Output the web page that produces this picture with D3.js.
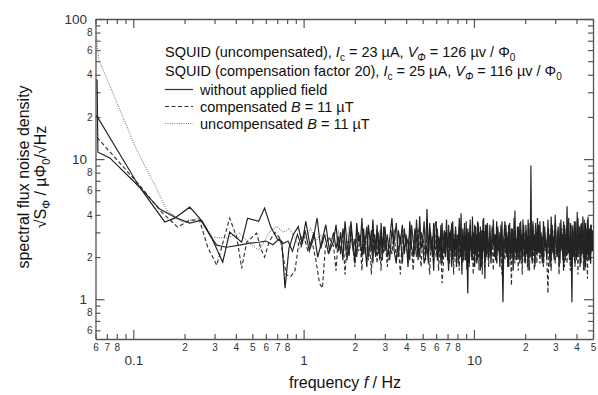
<!DOCTYPE html>
<html>
<head>
<meta charset="utf-8">
<script src="https://cdn.jsdelivr.net/npm/d3@7"></script>
<style>
  body { margin: 0; background: #fff; }
  svg { display: block; font-family: "Liberation Sans", Arial, sans-serif; }
</style>
</head>
<body>
<svg id="chart" width="598" height="395"></svg>
<script>
// axis ticks
const xMajor = [0.1, 1, 10];
const xMinor = [0.06, 0.07, 0.08, 0.09, 0.2, 0.3, 0.4, 0.5, 0.6, 0.7, 0.8, 0.9,
                2, 3, 4, 5, 6, 7, 8, 9, 20, 30, 40, 50];
const xMinorLabeled = [0.06, 0.07, 0.08, 0.2, 0.3, 0.4, 0.5, 0.6, 0.7, 0.8,
                       2, 3, 4, 5, 6, 7, 8, 20, 30, 40, 50];
const yMajor = [1, 10, 100];
const yMinor = [0.6, 0.7, 0.8, 0.9, 2, 3, 4, 5, 6, 7, 8, 9, 20, 30, 40, 50, 60, 70, 80, 90];
const yMinorLabeled = [0.6, 0.8, 2, 4, 6, 8, 20, 40, 60, 80];

// low frequency part, [f (Hz), sqrt(S) (uPhi0/sqrtHz)]
const solidALo = [[0.0613, 37], [0.0620, 11.2], [0.0728, 10.2], [0.109, 6.3], [0.153, 3.56], [0.175, 3.79],
  [0.2145, 4.54], [0.245, 3.79], [0.289, 2.73], [0.335, 1.84], [0.368, 3.01], [0.433, 2.55], [0.469, 3.79],
  [0.545, 3.6], [0.59, 4.47], [0.64, 3.3], [0.70, 2.7], [0.745, 2.55], [0.778, 1.2], [0.82, 2.3], [0.87, 2.9],
  [0.93, 3.3], [0.98, 2.5], [1.03, 3.6], [1.09, 2.4], [1.15, 3.0], [1.21, 2.0], [1.28, 2.6], [1.35, 3.4], [1.42, 2.2]];
const solidBLo = [[0.0608, 20.5], [0.109, 6.3], [0.143, 4.4], [0.180, 3.79], [0.2145, 3.49], [0.252, 3.67],
  [0.289, 2.73], [0.309, 2.43], [0.353, 2.35], [0.421, 2.43], [0.482, 2.51], [0.545, 2.55], [0.60, 2.6],
  [0.66, 2.45], [0.72, 2.7], [0.76, 2.5], [0.81, 2.6], [0.86, 2.2], [0.92, 2.9], [0.97, 2.4], [1.02, 3.1],
  [1.08, 2.2], [1.14, 2.7], [1.20, 3.8], [1.26, 2.3], [1.33, 2.9], [1.40, 2.1]];
const dashedLo = [[0.0612, 14.3], [0.109, 6.5], [0.143, 4.32], [0.182, 3.27], [0.2145, 3.67], [0.245, 3.67],
  [0.2735, 2.35], [0.309, 1.75], [0.368, 3.79], [0.405, 2.77], [0.433, 1.66], [0.463, 2.55], [0.530, 2.96],
  [0.56, 2.3], [0.59, 2.0], [0.63, 2.6], [0.68, 3.0], [0.73, 2.7], [0.79, 1.5], [0.84, 1.45], [0.89, 1.6],
  [0.94, 2.6], [1.00, 2.9], [1.06, 2.2], [1.12, 2.6], [1.18, 1.9], [1.24, 1.3], [1.29, 1.2], [1.34, 2.3], [1.40, 2.8]];
const dottedLo = [[0.0610, 75], [0.0625, 52], [0.1048, 11.6], [0.134, 6.5], [0.157, 4.32], [0.195, 3.55],
  [0.245, 3.79], [0.2926, 2.77], [0.3534, 2.73], [0.421, 2.96], [0.48, 2.5], [0.545, 2.24], [0.59, 2.6],
  [0.64, 3.1], [0.70, 3.3], [0.76, 3.0], [0.82, 3.2], [0.88, 2.8], [0.95, 2.3], [1.02, 2.7], [1.10, 3.2],
  [1.18, 2.6], [1.26, 2.9], [1.34, 2.4], [1.42, 2.7]];

// high frequency part on a common grid
const freqHi = [
  1.5, 1.55, 1.6, 1.65, 1.7, 1.75, 1.8, 1.85, 1.9, 1.95, 2, 2.05, 2.1, 2.15, 2.2, 2.25, 2.3, 2.35, 2.4, 2.45,
  2.5, 2.55, 2.6, 2.65, 2.7, 2.75, 2.8, 2.85, 2.9, 2.95,
  3, 3.1, 3.2, 3.3, 3.4, 3.5, 3.6, 3.7, 3.8, 3.9, 4, 4.1, 4.2, 4.3, 4.4, 4.5, 4.6, 4.7, 4.8, 4.9,
  5, 5.1, 5.2, 5.3, 5.4, 5.5, 5.6, 5.7, 5.8, 5.9,
  6, 6.1, 6.2, 6.3, 6.4, 6.5, 6.6, 6.7, 6.8, 6.9, 7, 7.1, 7.2, 7.3, 7.4, 7.5, 7.6, 7.7, 7.8, 7.9,
  8, 8.1, 8.2, 8.3, 8.4, 8.5, 8.6, 8.7, 8.8, 8.9, 9, 9.1, 9.2, 9.3, 9.4, 9.5, 9.6, 9.7, 9.8, 9.9,
  10, 10.1, 10.2, 10.3, 10.4, 10.5, 10.6, 10.7, 10.8, 10.9, 11, 11.1, 11.2, 11.3, 11.4, 11.5, 11.6, 11.7, 11.8, 11.9,
  12, 12.2, 12.4, 12.6, 12.8, 13, 13.2, 13.4, 13.6, 13.8, 14, 14.2, 14.4, 14.6, 14.8, 15, 15.2, 15.4, 15.6, 15.8,
  16, 16.2, 16.4, 16.6, 16.8, 17, 17.2, 17.4, 17.6, 17.8, 18, 18.2, 18.4, 18.6, 18.8, 19, 19.2, 19.4, 19.6, 19.8,
  20, 20.2, 20.4, 20.6, 20.8, 21, 21.2, 21.4, 21.6, 21.8, 22, 22.2, 22.4, 22.6, 22.8, 23, 23.2, 23.4, 23.6, 23.8,
  24, 24.4, 24.8, 25.2, 25.6, 26, 26.4, 26.8, 27.2, 27.6, 28, 28.4, 28.8, 29.2, 29.6, 30, 30.4, 30.8, 31.2, 31.6,
  32, 32.4, 32.8, 33.2, 33.6, 34, 34.4, 34.8, 35.2, 35.6, 36, 36.4, 36.8, 37.2, 37.6, 38, 38.4, 38.8, 39.2, 39.6,
  40, 40.4, 40.8, 41.2, 41.6, 42, 42.4, 42.8, 43.2, 43.6, 44, 44.4, 44.8, 45.2, 45.6, 46, 46.4, 46.8, 47.2, 47.6,
  48, 48.4, 48.8, 49.2, 49.6, 50];

const solidAHi = [
  2.6, 3.4, 2.2, 3.0, 1.9, 3.6, 2.4, 2.1, 3.3, 2.5, 1.8, 3.5, 2.6, 2.9, 2.0, 3.2, 2.3, 1.7, 3.4, 2.7,
  2.2, 3.7, 2.4, 2.0, 3.1, 2.6, 1.9, 3.5, 2.2, 2.8,
  3.3, 2.0, 2.7, 3.8, 2.2, 1.8, 3.1, 2.5, 3.4, 2.1, 2.9, 1.7, 3.6, 2.4, 2.0, 3.2, 2.7, 1.9, 3.9, 2.3,
  2.6, 1.8, 2.0, 4.4, 2.1, 3.5, 2.2, 2.8, 1.6, 3.4,
  3.6, 1.9, 2.8, 2.2, 3.4, 1.8, 2.6, 3.1, 2.0, 3.7, 2.3, 1.6, 3.0, 2.5, 3.5, 1.9, 2.7, 2.2, 3.3, 1.7,
  2.9, 2.4, 3.8, 2.0, 2.6, 1.5, 3.2, 2.3, 2.8, 1.9, 3.6, 2.1, 1.1, 3.0, 1.8, 3.4, 2.4, 2.0, 3.9, 2.2,
  2.6, 1.7, 3.3, 2.5, 2.9, 1.9, 3.5, 2.2, 2.7, 1.6, 3.1, 2.4, 1.9, 3.7, 2.3, 2.8, 1.4, 3.4, 2.5, 2.0,
  3.5, 2.0, 2.8, 1.8, 3.3, 2.4, 2.9, 1.9, 3.6, 2.2, 2.6, 1.7, 3.4, 2.3, 0.95, 2.8, 3.6, 2.1, 3.0, 1.7,
  3.4, 2.5, 1.9, 3.2, 2.6, 1.6, 3.8, 2.2, 2.7, 1.9, 3.3, 2.4, 2.0, 3.5, 2.2, 2.9, 1.8, 3.7, 2.3, 2.6,
  1.9, 3.4, 2.1, 2.8, 1.6, 3.5, 2.3, 2.0, 3.1, 2.6, 1.8, 3.6, 2.4, 2.9, 1.7, 3.3, 2.5, 2.1, 3.8, 2.2,
  3.4, 2.1, 2.9, 1.8, 3.6, 2.3, 2.7, 1.9, 3.2, 2.5, 1.7, 3.9, 2.2, 2.8, 1.9, 3.5, 2.4, 2.0, 3.3, 2.6,
  1.8, 3.7, 2.3, 2.9, 1.6, 3.4, 2.5, 2.1, 4.6, 2.2, 2.8, 1.9, 3.5, 2.4, 0.95, 3.3, 2.2, 2.7, 1.8, 3.6,
  2.4, 2.0, 3.8, 2.3, 2.9, 1.7, 3.4, 2.5, 2.1, 3.9, 2.2, 2.7, 1.6, 3.5, 2.4, 2.0, 3.7, 2.3, 1.9, 3.2,
  2.6, 1.8, 3.4, 2.5, 2.2, 2.8];
const solidBHi = [
  3.0, 2.3, 2.8, 2.1, 3.2, 2.6, 1.9, 2.9, 3.6, 2.2, 2.7, 2.0, 3.0, 2.4, 3.8, 2.1, 2.6, 3.3, 2.0, 2.5,
  3.1, 1.8, 2.9, 2.3, 3.4, 2.1, 2.7, 3.0, 1.9, 3.3,
  2.2, 2.9, 1.9, 3.1, 2.5, 3.5, 2.0, 2.8, 1.8, 3.2, 2.4, 2.7, 1.9, 3.4, 2.6, 2.1, 3.7, 2.3, 2.0, 3.0,
  2.6, 3.6, 2.1, 2.4, 1.8, 3.2, 2.7, 2.0, 3.5, 2.3,
  2.3, 3.2, 2.0, 2.7, 1.8, 3.5, 2.4, 2.1, 3.0, 2.6, 1.9, 3.4, 2.2, 2.8, 1.7, 3.6, 2.5, 2.0, 3.1, 2.3,
  2.7, 1.8, 3.3, 2.4, 4.1, 2.1, 2.6, 1.9, 3.5, 2.2, 2.9, 1.7, 3.2, 2.5, 2.0, 3.7, 2.3, 2.8, 1.9, 3.0,
  2.4, 3.4, 2.1, 2.6, 1.8, 3.6, 2.2, 2.9, 2.0, 3.3, 2.5, 1.7, 3.1, 2.3, 3.8, 2.1, 2.7, 1.9, 3.4, 2.4,
  2.8, 1.9, 3.4, 2.2, 2.6, 3.7, 2.0, 2.9, 1.8, 3.3, 2.4, 3.0, 2.1, 3.6, 1.9, 2.7, 2.3, 3.4, 2.0, 2.8,
  1.7, 3.5, 2.4, 2.1, 3.2, 2.6, 1.9, 4.3, 2.3, 2.7, 2.0, 3.3, 2.5, 1.8, 3.6, 2.2, 2.9, 2.0, 3.4, 2.4,
  1.8, 3.1, 2.6, 2.2, 3.7, 2.0, 2.8, 2.3, 9.0, 2.5, 2.0, 3.4, 2.2, 2.7, 1.8, 3.5, 2.4, 2.1, 3.2, 2.6,
  2.2, 3.6, 2.0, 2.8, 1.8, 3.3, 2.5, 2.1, 3.7, 2.3, 2.9, 1.9, 3.4, 2.4, 2.0, 4.0, 2.6, 2.2, 3.1, 1.7,
  3.5, 2.3, 2.8, 2.0, 3.6, 2.4, 1.9, 3.2, 2.6, 2.1, 3.8, 2.2, 2.7, 1.8, 3.4, 2.5, 2.0, 3.6, 2.3, 2.9,
  1.9, 4.2, 2.4, 2.1, 3.3, 2.6, 1.8, 3.5, 2.2, 2.8, 2.0, 3.7, 2.4, 1.7, 3.2, 2.5, 2.1, 3.9, 2.3, 2.7,
  1.9, 3.4, 2.2, 2.6, 3.1, 2.4];
const dashedHi = [
  2.4, 1.6, 2.8, 2.2, 3.0, 1.5, 2.6, 2.0, 2.9, 2.3, 1.7, 3.1, 2.2, 2.5, 1.6, 2.8, 2.1, 3.2, 1.9, 2.4,
  1.5, 2.9, 2.2, 2.6, 1.8, 3.0, 2.3, 1.6, 2.7, 2.1,
  2.8, 1.7, 2.5, 2.1, 3.1, 1.9, 2.4, 1.5, 2.9, 2.2, 2.6, 1.8, 3.0, 2.3, 1.6, 2.7, 2.0, 3.2, 2.2, 1.7,
  2.8, 2.4, 1.9, 3.0, 2.1, 1.5, 2.6, 2.3, 1.8, 2.9,
  2.0, 2.8, 1.6, 2.5, 2.2, 1.3, 1.7, 2.6, 2.1, 3.0, 2.7, 2.3, 1.8, 3.1, 2.0, 2.5, 1.5, 2.9, 2.2, 1.7,
  2.8, 2.4, 1.6, 3.0, 2.1, 2.6, 1.8, 2.3, 3.2, 1.9, 2.5, 1.6, 2.9, 2.2, 1.7, 3.0, 2.4, 1.9, 2.7, 1.5,
  2.6, 2.1, 3.1, 1.8, 2.4, 2.0, 2.8, 1.6, 3.0, 2.3, 1.9, 2.7, 1.5, 2.5, 2.2, 3.1, 1.7, 2.6, 2.0, 2.8,
  2.4, 1.7, 3.0, 2.1, 2.6, 1.6, 2.9, 2.2, 1.8, 3.1, 2.3, 2.0, 2.7, 1.5, 2.8, 2.2, 1.9, 3.2, 2.0, 2.5,
  1.7, 2.9, 2.3, 1.25, 2.7, 2.1, 3.0, 1.8, 2.4, 2.0, 2.8, 1.6, 3.1, 2.2, 1.9, 2.6, 1.5, 2.9, 2.3, 1.8,
  3.0, 2.1, 2.5, 1.7, 2.8, 2.2, 1.6, 3.2, 2.4, 1.9, 2.6, 2.0, 2.9, 1.6, 2.5, 2.2, 3.0, 1.8, 2.4, 2.1,
  2.6, 1.8, 3.0, 2.2, 1.7, 2.8, 2.3, 1.9, 1.1, 2.5, 2.9, 1.6, 2.7, 2.1, 3.1, 1.8, 2.4, 2.0, 2.8, 1.5,
  2.6, 2.2, 3.2, 1.9, 2.5, 1.7, 2.9, 2.3, 1.8, 3.0, 2.1, 2.6, 1.6, 2.8, 2.2, 1.9, 3.1, 2.4, 1.7, 2.7,
  2.0, 2.9, 1.5, 2.6, 2.3, 3.0, 1.8, 2.5, 2.1, 2.8, 1.6, 3.1, 2.2, 2.4, 1.9, 2.7, 1.4, 2.9, 2.3, 2.0,
  2.6, 1.8, 3.0, 2.2, 2.5, 2.3];
const dottedHi = [
  2.7, 2.3, 3.1, 2.5, 2.9, 2.2, 2.8, 3.3, 2.4, 2.7, 2.1, 3.0, 2.6, 2.3, 3.2, 2.5, 2.8, 2.2, 3.0, 2.6,
  2.4, 3.3, 2.5, 2.9, 2.2, 2.7, 3.1, 2.4, 2.8, 2.3,
  3.0, 2.4, 2.7, 2.1, 3.2, 2.6, 2.3, 2.9, 2.5, 3.1, 2.2, 2.8, 2.4, 3.3, 2.6, 2.2, 2.9, 2.5, 3.0, 2.3,
  2.7, 2.1, 3.1, 2.5, 2.8, 2.2, 3.0, 2.6, 2.3, 2.9,
  2.6, 3.0, 2.3, 2.8, 2.1, 3.1, 2.5, 2.7, 2.2, 3.2, 2.4, 2.9, 2.6, 2.2, 3.0, 2.5, 2.8, 2.1, 3.3, 2.4,
  2.7, 2.3, 3.0, 2.6, 2.2, 2.9, 2.5, 3.1, 2.3, 2.8, 2.1, 3.0, 2.6, 2.4, 3.2, 2.2, 2.7, 2.5, 3.0, 2.3,
  2.9, 2.1, 2.8, 2.6, 3.3, 2.4, 2.2, 3.0, 2.5, 2.7, 2.3, 3.1, 2.6, 2.2, 2.9, 2.4, 3.0, 2.5, 2.7, 2.3,
  3.0, 2.4, 2.7, 2.2, 3.2, 2.5, 2.9, 2.3, 2.6, 3.1, 2.2, 2.8, 2.5, 3.0, 2.3, 2.7, 2.1, 3.2, 2.6, 2.4,
  2.9, 2.2, 3.0, 2.5, 2.7, 2.3, 3.3, 2.4, 2.8, 2.1, 3.0, 2.6, 2.3, 2.9, 2.5, 3.1, 2.2, 2.7, 2.4, 3.0,
  2.6, 2.3, 2.9, 2.1, 3.2, 2.5, 2.8, 2.4, 3.0, 2.2, 2.7, 2.5, 3.1, 2.3, 2.8, 2.6, 2.2, 3.0, 2.4, 2.7,
  2.5, 3.1, 2.3, 2.8, 2.6, 2.2, 3.0, 2.4, 2.9, 2.1, 3.2, 2.5, 2.7, 2.3, 3.0, 2.6, 2.2, 2.9, 2.4, 3.1,
  2.5, 2.8, 2.2, 3.0, 2.6, 2.3, 2.9, 2.1, 3.2, 2.4, 2.7, 2.5, 3.0, 2.2, 2.8, 2.6, 2.3, 3.1, 2.4, 2.9,
  2.2, 3.0, 2.5, 2.7, 2.3, 3.2, 2.6, 2.4, 2.8, 2.1, 3.0, 2.5, 2.7, 2.2, 2.9, 2.4, 3.1, 2.3, 2.6, 2.8,
  2.2, 3.0, 2.4, 2.7, 2.5, 2.6];

const svg = d3.select("#chart");
const x = d3.scaleLog().domain([0.06, 50]).range([95.5, 593]);
const y = d3.scaleLog().domain([0.52, 100]).range([339, 19]);

const lead = d => String(Math.round(d / Math.pow(10, Math.floor(Math.log10(d) + 1e-9))));
const axisColor = "#555";

function styleAxis(g, fontSize, keepDomain) {
  g.attr("font-family", null).attr("font-size", fontSize);
  g.selectAll(".tick line").attr("stroke", axisColor).attr("stroke-width", 1.2);
  g.selectAll(".tick text").attr("fill", "#333");
  if (keepDomain) g.select(".domain").attr("stroke", axisColor).attr("stroke-width", 1.3);
  else g.select(".domain").remove();
}

// bottom
svg.append("g").attr("transform", "translate(0,339)")
  .call(d3.axisBottom(x).tickValues(xMinor).tickSizeInner(-5).tickSizeOuter(0).tickPadding(5)
    .tickFormat(d => xMinorLabeled.includes(d) ? lead(d) : ""))
  .call(g => styleAxis(g, 10, false));
svg.append("g").attr("transform", "translate(0,339)")
  .call(d3.axisBottom(x).tickValues(xMajor).tickSizeInner(-9).tickSizeOuter(0).tickPadding(16)
    .tickFormat(d => String(d)))
  .call(g => styleAxis(g, 13.5, true));
// top
svg.append("g").attr("transform", "translate(0,19)")
  .call(d3.axisTop(x).tickValues(xMinor).tickSizeInner(-5).tickSizeOuter(0).tickFormat(""))
  .call(g => styleAxis(g, 10, false));
svg.append("g").attr("transform", "translate(0,19)")
  .call(d3.axisTop(x).tickValues(xMajor).tickSizeInner(-9).tickSizeOuter(0).tickFormat(""))
  .call(g => styleAxis(g, 10, true));
// left
svg.append("g").attr("transform", "translate(95.5,0)")
  .call(d3.axisLeft(y).tickValues(yMinor).tickSizeInner(-5).tickSizeOuter(0).tickPadding(3)
    .tickFormat(d => yMinorLabeled.includes(d) ? lead(d) : ""))
  .call(g => styleAxis(g, 10, false));
svg.append("g").attr("transform", "translate(95.5,0)")
  .call(d3.axisLeft(y).tickValues(yMajor).tickSizeInner(-9).tickSizeOuter(0).tickPadding(8.5)
    .tickFormat(d => String(d)))
  .call(g => styleAxis(g, 13.5, true));
// right
svg.append("g").attr("transform", "translate(593,0)")
  .call(d3.axisRight(y).tickValues(yMinor).tickSizeInner(-5).tickSizeOuter(0).tickFormat(""))
  .call(g => styleAxis(g, 10, false));
svg.append("g").attr("transform", "translate(593,0)")
  .call(d3.axisRight(y).tickValues(yMajor).tickSizeInner(-9).tickSizeOuter(0).tickFormat(""))
  .call(g => styleAxis(g, 10, true));

// curves
svg.append("clipPath").attr("id", "plot")
  .append("rect").attr("x", 95.5).attr("y", 19).attr("width", 497.5).attr("height", 320);

const withHi = (lo, hi) => lo.concat(hi.map((v, i) => [freqHi[i], v]).filter(d => d[0] !== undefined));
const series = [
  { data: withHi(dottedLo, dottedHi), color: "#808080", dash: "1,1.3", w: 1.1 },
  { data: withHi(dashedLo, dashedHi), color: "#333", dash: "4,2.5", w: 1.15 },
  { data: withHi(solidBLo, solidBHi), color: "#2b2b2b", dash: null, w: 1.2 },
  { data: withHi(solidALo, solidAHi), color: "#222", dash: null, w: 1.2 }
];
const line = d3.line().x(d => x(d[0])).y(d => y(d[1]));

svg.append("g").attr("clip-path", "url(#plot)")
  .selectAll("path").data(series).join("path")
  .attr("d", d => line(d.data))
  .attr("fill", "none")
  .attr("stroke", d => d.color)
  .attr("stroke-width", d => d.w)
  .attr("stroke-dasharray", d => d.dash);

// legend
const legend = svg.append("g").attr("font-size", 14.5).attr("fill", "#111");
function addRow(yb, parts) {
  const t = legend.append("text").attr("x", 165).attr("y", yb);
  parts.forEach(p => {
    const s = t.append("tspan").text(p.t);
    if (p.i) s.attr("font-style", "italic");
    if (p.sub) s.attr("font-size", 10).attr("dy", 4);
    if (p.back) s.attr("dy", -4);
  });
}
addRow(56.5, [{ t: "SQUID (uncompensated), " }, { t: "I", i: 1 }, { t: "c", sub: 1 }, { t: " = 23 µA, ", back: 1 },
  { t: "V", i: 1 }, { t: "Φ", i: 1, sub: 1 }, { t: " = 126 µv / Φ", back: 1 }, { t: "0", sub: 1 }]);
addRow(75.5, [{ t: "SQUID (compensation factor 20), " }, { t: "I", i: 1 }, { t: "c", sub: 1 }, { t: " = 25 µA, ", back: 1 },
  { t: "V", i: 1 }, { t: "Φ", i: 1, sub: 1 }, { t: " = 116 µv / Φ", back: 1 }, { t: "0", sub: 1 }]);

const legendRows = [
  { yb: 94.5, dash: null, color: "#333", parts: [{ t: "without applied field" }] },
  { yb: 111.5, dash: "4,2.5", color: "#333", parts: [{ t: "compensated " }, { t: "B", i: 1 }, { t: " = 11 µT" }] },
  { yb: 128.5, dash: "1,1.3", color: "#808080", parts: [{ t: "uncompensated " }, { t: "B", i: 1 }, { t: " = 11 µT" }] }
];
legendRows.forEach(r => {
  legend.append("line").attr("x1", 165).attr("x2", 193).attr("y1", r.yb - 5).attr("y2", r.yb - 5)
    .attr("stroke", r.color).attr("stroke-width", 1.2).attr("stroke-dasharray", r.dash);
  const t = legend.append("text").attr("x", 200).attr("y", r.yb);
  r.parts.forEach(p => {
    const s = t.append("tspan").text(p.t);
    if (p.i) s.attr("font-style", "italic");
  });
});

// axis titles
svg.append("text").attr("x", 345).attr("y", 388).attr("text-anchor", "middle").attr("font-size", 16)
  .attr("fill", "#111")
  .call(t => {
    t.append("tspan").text("frequency ");
    t.append("tspan").attr("font-style", "italic").text("f");
    t.append("tspan").text(" / Hz");
  });

const yt = svg.append("g").attr("transform", "rotate(-90)").attr("font-size", 16).attr("fill", "#111");
yt.append("text").attr("x", -177).attr("y", 29).attr("text-anchor", "middle").text("spectral flux noise density");
yt.append("text").attr("x", -177).attr("y", 46).attr("text-anchor", "middle")
  .call(t => {
    t.append("tspan").text("√S");
    t.append("tspan").attr("font-size", 11).attr("dy", 4).text("Φ");
    t.append("tspan").attr("dy", -4).text(" / µΦ");
    t.append("tspan").attr("font-size", 11).attr("dy", 4).text("0");
    t.append("tspan").attr("dy", -4).text("/√Hz");
  });
</script>
</body>
</html>
